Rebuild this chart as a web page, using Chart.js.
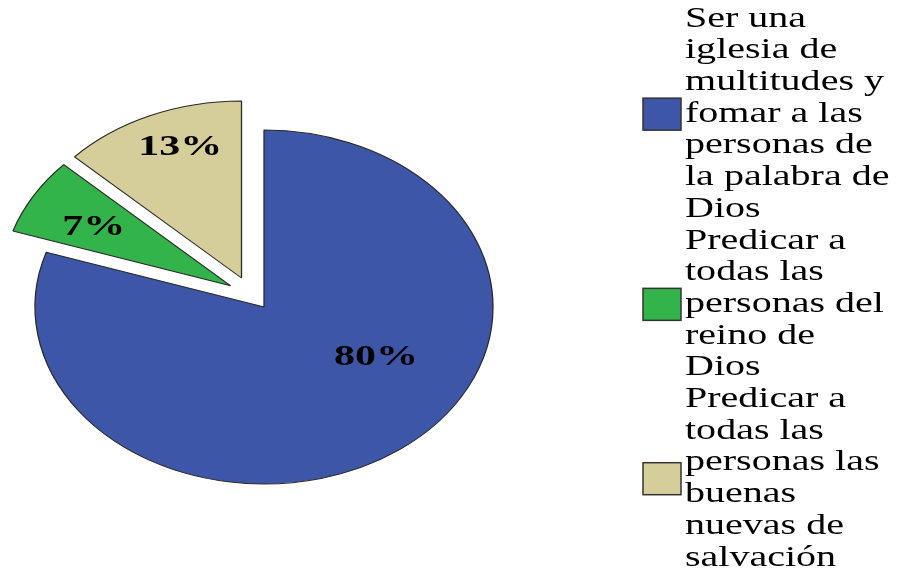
<!DOCTYPE html>
<html>
<head>
<meta charset="utf-8">
<script src="https://cdn.jsdelivr.net/npm/chart.js@4.4.1/dist/chart.umd.min.js"></script>
<style>
html,body{margin:0;padding:0;background:#fff;}
canvas{display:block;}
</style>
</head>
<body>
<canvas id="c" width="899" height="577"></canvas>
<script>
// ---- data ----
const categories = [
  ["Ser una", "iglesia de", "multitudes y", "fomar a las", "personas de", "la palabra de", "Dios"],
  ["Predicar a", "todas las", "personas del", "reino de", "Dios"],
  ["Predicar a", "todas las", "personas las", "buenas", "nuevas de", "salvación"]
];
const values = [80, 7, 13];

// ---- style ----
const colors = ['#3D56A8', '#33B44A', '#D5CE9A'];
const SX = 229 / 177;                 // horizontal stretch of the pie
const explode = [{d: 0, a: 0}, {d: 39.5, a: 302.5}, {d: 36.7, a: 322.2}];
const labelPlace = [{da: -24, r: 0.565}, {da: -1.5, r: 0.684}, {da: 3.5, r: 0.787}];
const LEG = {boxX: 643, boxW: 38, boxH: 32, textX: 685, lineH: 31.7, font: 29, hscale: 1.38};
const LBL = {font: 30, hscale: 1.4};

function explodeVec(i) {
  const e = explode[i], a = e.a * Math.PI / 180;
  return [Math.sin(a) * e.d, -Math.cos(a) * e.d];
}

const ellipsePie = {
  id: 'ellipsePie',
  beforeDatasetsDraw(chart) {
    const ctx = chart.ctx;
    const meta = chart.getDatasetMeta(0);
    meta.data.forEach((arc, i) => {
      const x = arc.x, y = arc.y;
      const [ex, ey] = explodeVec(i);
      ctx.save();
      ctx.translate(x + ex, y + ey);
      ctx.scale(SX, 1);
      ctx.translate(-x, -y);
      arc.draw(ctx);
      ctx.restore();
    });
    return false;
  },
  afterDraw(chart) {
    const ctx = chart.ctx;
    const meta = chart.getDatasetMeta(0);
    const total = values.reduce((a, b) => a + b, 0);
    // percentage labels
    meta.data.forEach((arc, i) => {
      const x = arc.x, y = arc.y;
      const [ex, ey] = explodeVec(i);
      const mid = (arc.startAngle + arc.endAngle) / 2 + labelPlace[i].da * Math.PI / 180;
      const r = arc.outerRadius * labelPlace[i].r;
      const X = x + ex + Math.cos(mid) * r * SX;
      const Y = y + ey + Math.sin(mid) * r;
      ctx.save();
      ctx.translate(X, Y);
      ctx.scale(LBL.hscale, 1);
      ctx.font = 'bold ' + LBL.font + 'px "Liberation Serif", "Times New Roman", serif';
      ctx.fillStyle = '#000';
      ctx.textAlign = 'center';
      ctx.textBaseline = 'middle';
      ctx.fillText(Math.round(values[i] / total * 100) + '%', 0, 0);
      ctx.restore();
    });
    // legend
    const nLines = categories.reduce((a, c) => a + c.length, 0);
    let cursor = (chart.height - nLines * LEG.lineH) / 2;
    categories.forEach((lines, i) => {
      const h = lines.length * LEG.lineH;
      const by = cursor + h / 2 - LEG.boxH / 2;
      ctx.save();
      ctx.fillStyle = colors[i];
      ctx.strokeStyle = '#333';
      ctx.lineWidth = 1.5;
      ctx.fillRect(LEG.boxX, by, LEG.boxW, LEG.boxH);
      ctx.strokeRect(LEG.boxX, by, LEG.boxW, LEG.boxH);
      ctx.restore();
      lines.forEach((t, j) => {
        ctx.save();
        ctx.translate(LEG.textX, cursor + (j + 0.5) * LEG.lineH);
        ctx.scale(LEG.hscale, 1);
        ctx.font = LEG.font + 'px "Liberation Serif", "Times New Roman", serif';
        ctx.fillStyle = '#000';
        ctx.textAlign = 'left';
        ctx.textBaseline = 'middle';
        ctx.fillText(t, 0, 0);
        ctx.restore();
      });
      cursor += h;
    });
  }
};

new Chart(document.getElementById('c'), {
  type: 'pie',
  data: {
    labels: categories,
    datasets: [{
      data: values,
      backgroundColor: colors,
      borderColor: '#2a2a2a',
      borderWidth: 1,
      radius: 177
    }]
  },
  options: {
    responsive: false,
    devicePixelRatio: 1,
    animation: false,
    layout: {padding: {left: 0, right: 371, top: 37, bottom: 0}},
    plugins: {
      legend: {display: false},
      tooltip: {enabled: false}
    }
  },
  plugins: [ellipsePie]
});
</script>
</body>
</html>
